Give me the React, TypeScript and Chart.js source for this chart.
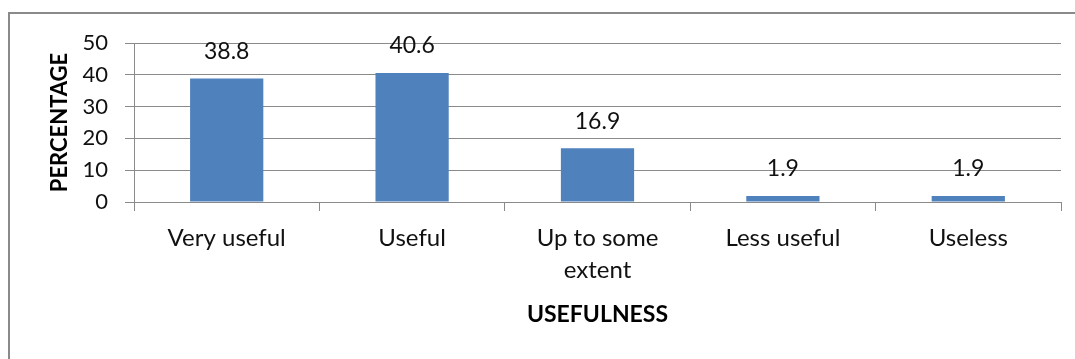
import React, { useEffect, useRef } from 'react';
import { Chart, registerables } from 'chart.js';

Chart.register(...registerables);

const categories: (string | string[])[] = ['Very useful', 'Useful', ['Up to some', 'extent'], 'Less useful', 'Useless'];
const percentages: number[] = [38.8, 40.6, 16.9, 1.9, 1.9];
const yTicks: number[] = [0, 10, 20, 30, 40, 50];
const xTitle = 'USEFULNESS';
const yTitle = 'PERCENTAGE';

const FONT = 'Lato, "Open Sans", "DejaVu Sans", sans-serif';
const GRID = '#8a8a8a';
const BAR = '#4f81bd';

const valueLabels = {
  id: 'valueLabels',
  afterDatasetsDraw(chart: any) {
    const ctx = chart.ctx;
    const meta = chart.getDatasetMeta(0);
    ctx.save();
    ctx.font = `23px ${FONT}`;
    ctx.fillStyle = '#111';
    ctx.textAlign = 'center';
    ctx.textBaseline = 'middle';
    meta.data.forEach((el: any, i: number) => {
      ctx.fillText(String(percentages[i]), el.x, el.y - 27);
    });
    ctx.restore();
  },
};

export default function App() {
  const ref = useRef<HTMLCanvasElement | null>(null);

  useEffect(() => {
    let chart: Chart | null = null;
    let cancelled = false;
    const make = () => {
      if (cancelled || !ref.current) return;
      chart = new Chart(ref.current, {
        type: 'bar',
        data: {
          labels: categories,
          datasets: [
            {
              data: percentages,
              backgroundColor: BAR,
              borderWidth: 0,
              barPercentage: 0.395,
              categoryPercentage: 1,
            },
          ],
        },
        options: {
          animation: false,
          responsive: true,
          maintainAspectRatio: false,
          layout: { padding: { top: 43, right: 14, bottom: 0, left: 0 } },
          plugins: {
            legend: { display: false },
            tooltip: { enabled: false },
          },
          scales: {
            x: {
              grid: {
                offset: true,
                drawOnChartArea: false,
                drawTicks: true,
                tickLength: 9,
                color: GRID,
                lineWidth: 1,
              },
              border: { display: true, color: GRID, width: 1 },
              ticks: {
                color: '#111',
                font: { family: FONT, size: 24, lineHeight: 1.333 },
                padding: 11,
                maxRotation: 0,
                autoSkip: false,
              },
              title: {
                display: true,
                text: xTitle,
                color: '#000',
                font: { family: FONT, size: 23, weight: 'bold', lineHeight: 1.2 },
                padding: { top: 0, bottom: 31 },
              },
              afterFit: (s: any) => {
                s.height = 157;
              },
            },
            y: {
              min: 0,
              max: 50,
              afterBuildTicks: (s: any) => {
                s.ticks = yTicks.map((v) => ({ value: v }));
              },
              grid: { color: GRID, tickLength: 9, drawTicks: true, lineWidth: 1 },
              border: { display: true, color: GRID, width: 1 },
              ticks: {
                color: '#111',
                font: { family: FONT, size: 22 },
                padding: 17,
              },
              title: {
                display: true,
                text: yTitle,
                color: '#000',
                font: { family: FONT, size: 22, weight: 'bold', lineHeight: 1.2 },
                padding: { top: 47, bottom: 0 },
              },
              afterFit: (s: any) => {
                s.width = 134;
              },
            },
          },
        },
        plugins: [valueLabels],
      } as any);
    };
    const fonts: any = (document as any).fonts;
    if (fonts && fonts.load) {
      Promise.all([fonts.load(`22px Lato`), fonts.load(`bold 22px Lato`)])
        .catch(() => null)
        .then(make);
    } else {
      make();
    }
    return () => {
      cancelled = true;
      if (chart) chart.destroy();
    };
  }, []);

  return (
    <div>
      <div
        style={{
          position: 'fixed',
          left: 8,
          top: 12,
          right: -20,
          bottom: -20,
          borderLeft: '2px solid #8a8a8a',
          borderTop: '2px solid #8a8a8a',
          background: '#fff',
        }}
      />
      <div style={{ position: 'fixed', left: 0, top: 0, width: 1075, height: 359 }}>
        <canvas ref={ref} />
      </div>
    </div>
  );
}
